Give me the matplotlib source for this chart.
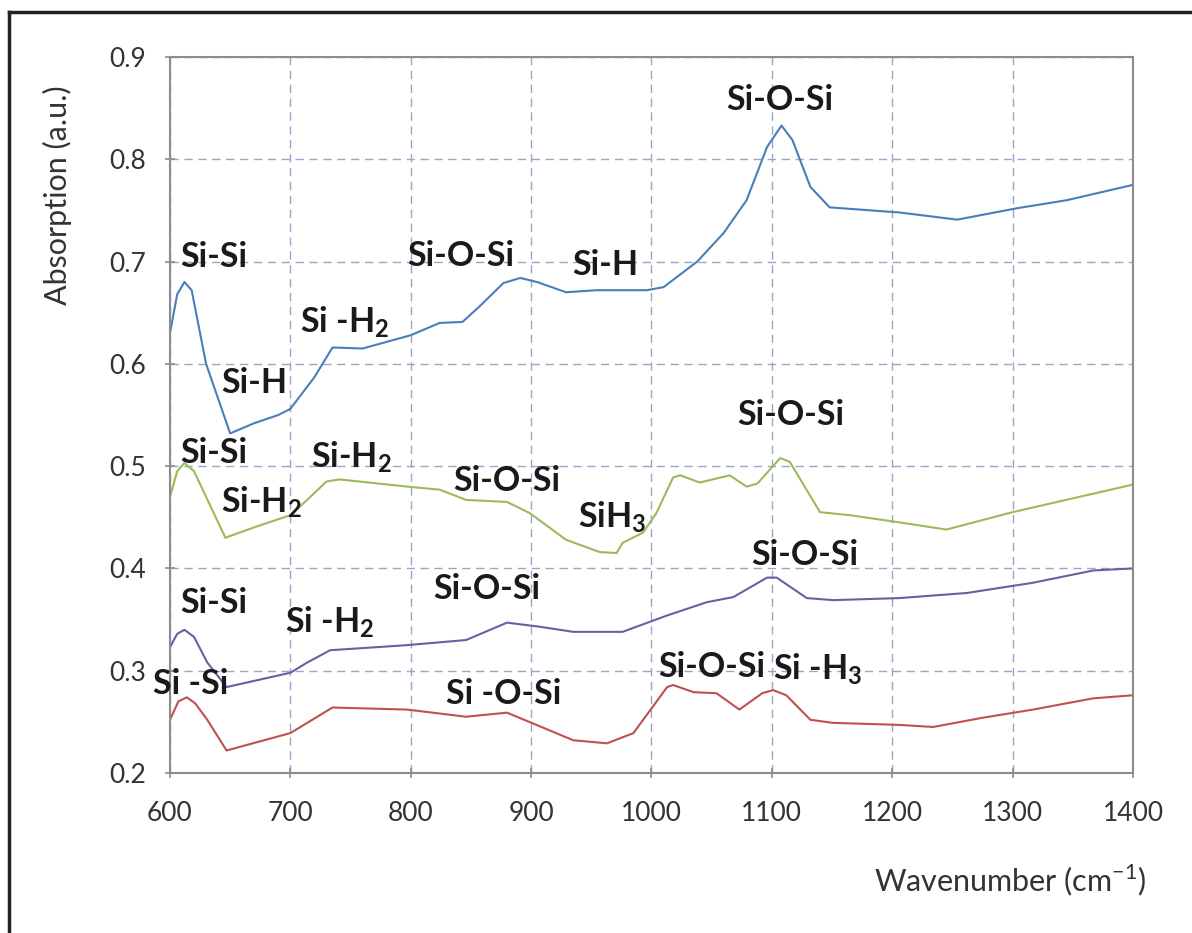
import matplotlib
matplotlib.use("Agg")
import matplotlib.pyplot as plt
from matplotlib.lines import Line2D

plt.rcParams['font.family'] = ['Lato', 'DejaVu Sans']

# FTIR spectra (wavenumber in cm^-1, absorption in a.u.)
blue_x = [600, 606, 612, 618, 630, 650, 670, 690, 700, 720, 735, 760, 800, 824, 843, 857, 877, 891,
          905, 929, 954, 996, 1010, 1038, 1060, 1079, 1096, 1108, 1117, 1132, 1148, 1206, 1254,
          1303, 1345, 1400]
blue_y = [0.630, 0.668, 0.680, 0.672, 0.600, 0.532, 0.542, 0.550, 0.556, 0.587, 0.616, 0.615, 0.628,
          0.640, 0.641, 0.656, 0.679, 0.684, 0.680, 0.670, 0.672, 0.672, 0.675, 0.700, 0.728, 0.760,
          0.812, 0.833, 0.819, 0.773, 0.753, 0.748, 0.741, 0.752, 0.760, 0.775]

green_x = [600, 606, 612, 620, 646, 672, 700, 714, 730, 741, 797, 824, 846, 880, 899, 929, 957, 971,
           976, 993, 1004, 1018, 1024, 1040, 1065, 1079, 1088, 1107, 1115, 1140, 1165, 1206, 1245,
           1300, 1400]
green_y = [0.470, 0.495, 0.503, 0.495, 0.430, 0.441, 0.452, 0.467, 0.485, 0.487, 0.480, 0.477,
           0.467, 0.465, 0.454, 0.428, 0.416, 0.415, 0.425, 0.435, 0.454, 0.489, 0.491, 0.484, 0.491,
           0.480, 0.483, 0.508, 0.504, 0.455, 0.452, 0.445, 0.438, 0.455, 0.482]

purple_x = [600, 606, 612, 620, 631, 647, 700, 714, 733, 797, 846, 880, 907, 935, 976, 1013, 1046,
            1068, 1096, 1104, 1129, 1151, 1206, 1262, 1317, 1367, 1400]
purple_y = [0.323, 0.336, 0.340, 0.333, 0.308, 0.284, 0.298, 0.308, 0.320, 0.325, 0.330, 0.347,
            0.343, 0.338, 0.338, 0.354, 0.367, 0.372, 0.391, 0.391, 0.371, 0.369, 0.371, 0.376,
            0.386, 0.398, 0.400]

red_x = [600, 607, 614, 621, 631, 647, 700, 735, 797, 846, 880, 935, 963, 985, 1013, 1018, 1035,
         1054, 1073, 1092, 1101, 1112, 1132, 1151, 1206, 1234, 1275, 1317, 1367, 1400]
red_y = [0.252, 0.270, 0.274, 0.268, 0.252, 0.222, 0.239, 0.264, 0.262, 0.255, 0.259, 0.232, 0.229,
         0.239, 0.284, 0.286, 0.279, 0.278, 0.262, 0.278, 0.281, 0.276, 0.252, 0.249, 0.247, 0.245,
         0.254, 0.262, 0.273, 0.276]

# Band assignments: (text, wavenumber, absorption) at the text centre
H2 = r"$\mathregular{_2}$"
H3 = r"$\mathregular{_3}$"
labels = [
    ("Si-Si", 636, 0.704), ("Si-H", 670, 0.581), ("Si -H" + H2, 745, 0.641),
    ("Si-O-Si", 842, 0.705), ("Si-H", 962, 0.697), ("Si-O-Si", 1107, 0.858),
    ("Si-Si", 636, 0.513), ("Si-H" + H2, 676, 0.465), ("Si-H" + H2, 751, 0.509),
    ("Si-O-Si", 880, 0.485), ("SiH" + H3, 967, 0.450), ("Si-O-Si", 1116, 0.550),
    ("Si-Si", 636, 0.366), ("Si -H" + H2, 733, 0.347), ("Si-O-Si", 863, 0.380),
    ("Si-O-Si", 1127, 0.413),
    ("Si -Si", 617, 0.287), ("Si -O-Si", 877, 0.277), ("Si-O-Si", 1050, 0.304),
    ("Si -H" + H3, 1138, 0.301),
]

x_ticks = [600, 700, 800, 900, 1000, 1100, 1200, 1300, 1400]
y_ticks = [0.2, 0.3, 0.4, 0.5, 0.6, 0.7, 0.8, 0.9]

fig = plt.figure(figsize=(11.92, 9.33), dpi=100)
ax = fig.add_axes([0.1426, 0.1715, 0.8079, 0.7674])

ax.plot(blue_x, blue_y, color="#4a7ebb", lw=1.5)
ax.plot(green_x, green_y, color="#9bbb59", lw=1.5)
ax.plot(purple_x, purple_y, color="#6a5fa0", lw=1.5)
ax.plot(red_x, red_y, color="#c0504d", lw=1.5)

for txt, x, y in labels:
    ax.text(x, y, txt, ha="center", va="center", fontsize=24.5, fontweight="bold",
            color="#1a1a1a")

ax.set_xlim(600, 1400)
ax.set_ylim(0.2, 0.9)
ax.set_xticks(x_ticks)
ax.set_yticks(y_ticks)
ax.set_yticklabels([f"{v:.1f}" for v in y_ticks])
ax.grid(True, color="#9aa6c8", linestyle=(0, (6, 4)), linewidth=1.0)
ax.set_axisbelow(True)
for s in ax.spines.values():
    s.set_color("#8c8c8c")
    s.set_linewidth(1.5)
ax.tick_params(axis="both", direction="inout", length=7, width=1.2, color="#8c8c8c",
               labelsize=19, labelcolor="#333333")
ax.tick_params(axis="x", pad=17)
ax.tick_params(axis="y", pad=14)

fig.text(0.048, 0.791, "Absorption (a.u.)", rotation=90, ha="center", va="center",
         fontsize=22, color="#333333")
fig.text(0.847, 0.057, r"Wavenumber (cm$^{\mathregular{-1}}$)", ha="center", va="center",
         fontsize=22, color="#333333")

# Outer frame (left and top edges)
fig.add_artist(Line2D([0.0075, 0.0075], [0.0, 0.987], transform=fig.transFigure,
                      color="#222222", lw=2.5))
fig.add_artist(Line2D([0.0075, 1.0], [0.987, 0.987], transform=fig.transFigure,
                      color="#222222", lw=2.5))

fig.savefig("out.png", dpi=100)
